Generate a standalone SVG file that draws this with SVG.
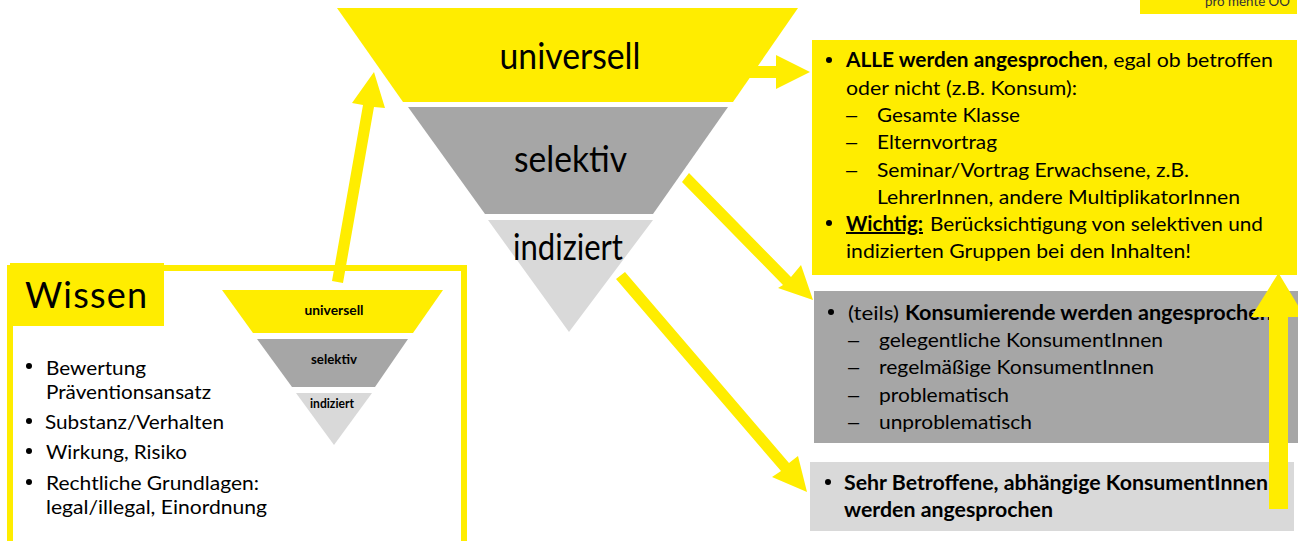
<svg xmlns="http://www.w3.org/2000/svg" width="1298" height="541" viewBox="0 0 1298 541">
<style>
text{font-family:Lato,"Liberation Sans",sans-serif;fill:#000}
.t{font-size:20px}
.b{font-size:20px;font-weight:700}
.d{font-size:20px;font-family:"Liberation Sans",sans-serif}
.y{fill:#FFED00}
.g{fill:#A6A6A6}
.l{fill:#D9D9D9}
.big{font-size:36px;text-anchor:middle}
.sm{font-size:13px;font-weight:700;text-anchor:middle}
.arrow{fill:#FFED00}
</style>
<rect width="1298" height="541" fill="#fff"/>
<g id="logo"><rect class="y" x="1140" y="0" width="157" height="14"/><text x="1205" y="6" font-size="14" textLength="85" lengthAdjust="spacingAndGlyphs" style="fill:#333">pro mente OÖ</text></g>
<g id="funnel-large">
<polygon class="y" points="337,8 798,8 733,102 403,102"/>
<text class="big" x="570" y="69" textLength="141" lengthAdjust="spacingAndGlyphs">universell</text>
<polygon class="g" points="408,107 728,107 653,214 485,214"/>
<text class="big" x="570.5" y="172" textLength="113" lengthAdjust="spacingAndGlyphs">selektiv</text>
<polygon class="l" points="488,220 653,220 569,332"/>
<text class="big" x="568" y="260" textLength="110" lengthAdjust="spacingAndGlyphs">indiziert</text>
</g>
<g id="box-universell">
<rect class="y" x="812" y="40" width="485" height="235"/>
<circle cx="829" cy="60" r="3"/>
<text class="b" x="846" y="67" textLength="257" lengthAdjust="spacingAndGlyphs">ALLE werden angesprochen</text>
<text class="t" x="1103" y="67" textLength="170" lengthAdjust="spacingAndGlyphs">, egal ob betroffen</text>
<text class="t" x="846" y="95" textLength="231" lengthAdjust="spacingAndGlyphs">oder nicht (z.B. Konsum):</text>
<text class="d" x="846" y="122">–</text>
<text class="t" x="877" y="122" textLength="143" lengthAdjust="spacingAndGlyphs">Gesamte Klasse</text>
<text class="d" x="846" y="149">–</text>
<text class="t" x="877" y="149" textLength="120" lengthAdjust="spacingAndGlyphs">Elternvortrag</text>
<text class="d" x="846" y="177">–</text>
<text class="t" x="877" y="177" textLength="312" lengthAdjust="spacingAndGlyphs">Seminar/Vortrag Erwachsene, z.B.</text>
<text class="t" x="877" y="204" textLength="363" lengthAdjust="spacingAndGlyphs">LehrerInnen, andere MultiplikatorInnen</text>
<circle cx="829" cy="223" r="3"/>
<text class="b" x="846" y="231" textLength="77" lengthAdjust="spacingAndGlyphs" text-decoration="underline">Wichtig:</text>
<text class="t" x="930" y="231" textLength="333" lengthAdjust="spacingAndGlyphs">Berücksichtigung von selektiven und</text>
<text class="t" x="846" y="258" textLength="345" lengthAdjust="spacingAndGlyphs">indizierten Gruppen bei den Inhalten!</text>
</g>
<g id="box-selektiv">
<rect class="g" x="814" y="291" width="484" height="152"/>
<circle cx="831" cy="312" r="3"/>
<text class="t" x="848" y="320" textLength="51" lengthAdjust="spacingAndGlyphs">(teils)</text>
<text class="b" x="905" y="320" textLength="367" lengthAdjust="spacingAndGlyphs">Konsumierende werden angesprochen</text>
<text class="d" x="848" y="347">–</text>
<text class="t" x="879" y="347" textLength="284" lengthAdjust="spacingAndGlyphs">gelegentliche KonsumentInnen</text>
<text class="d" x="848" y="374">–</text>
<text class="t" x="879" y="374" textLength="275" lengthAdjust="spacingAndGlyphs">regelmäßige KonsumentInnen</text>
<text class="d" x="848" y="402">–</text>
<text class="t" x="879" y="402" textLength="130" lengthAdjust="spacingAndGlyphs">problematisch</text>
<text class="d" x="848" y="429">–</text>
<text class="t" x="879" y="429" textLength="153" lengthAdjust="spacingAndGlyphs">unproblematisch</text>
</g>
<g id="box-indiziert">
<rect class="l" x="810" y="462" width="484" height="69"/>
<circle cx="828" cy="482" r="3"/>
<text class="b" x="844" y="490" textLength="424" lengthAdjust="spacingAndGlyphs">Sehr Betroffene, abhängige KonsumentInnen</text>
<text class="b" x="844" y="517" textLength="209" lengthAdjust="spacingAndGlyphs">werden angesprochen</text>
</g>
<g id="wissen">
<path d="M7,541V265H467V541H461V271H13V541Z" class="y"/>
<rect class="y" x="10" y="263" width="154" height="63"/>
<text x="25" y="308" font-size="36" textLength="122" lengthAdjust="spacing">Wissen</text>
<circle cx="29" cy="366" r="3"/>
<text class="t" x="46" y="375" textLength="100" lengthAdjust="spacingAndGlyphs">Bewertung</text>
<text class="t" x="46" y="399" textLength="165" lengthAdjust="spacingAndGlyphs">Präventionsansatz</text>
<circle cx="29" cy="421" r="3"/>
<text class="t" x="45" y="429" textLength="179" lengthAdjust="spacingAndGlyphs">Substanz/Verhalten</text>
<circle cx="29" cy="451" r="3"/>
<text class="t" x="46" y="459" textLength="141" lengthAdjust="spacingAndGlyphs">Wirkung, Risiko</text>
<circle cx="29" cy="482" r="3"/>
<text class="t" x="46" y="490" textLength="213" lengthAdjust="spacingAndGlyphs">Rechtliche Grundlagen:</text>
<text class="t" x="46" y="514" textLength="221" lengthAdjust="spacingAndGlyphs">legal/illegal, Einordnung</text>
</g>
<g id="funnel-small">
<polygon class="y" points="222,290 443,290 413,333 253,333"/>
<text class="sm" x="334" y="315" textLength="59" lengthAdjust="spacingAndGlyphs">universell</text>
<polygon class="g" points="257,339 408,339 375,387 292,387"/>
<text class="sm" x="334" y="364" textLength="46" lengthAdjust="spacingAndGlyphs">selektiv</text>
<polygon class="l" points="296,393 372,393 334,445"/>
<text class="sm" x="332" y="408" textLength="44" lengthAdjust="spacingAndGlyphs">indiziert</text>
</g>
<g id="connectors">
<polygon class="arrow" points="332,281 343,283 374,107 385,108 374,72 352,103 363,105"/>
<polygon class="arrow" points="745,66 776,66 776,55 810,72 776,89 776,78 745,78"/>
<polygon class="arrow" points="682,182 689,173 791,277 801,265 813,300 778,288 783,285"/>
<polygon class="arrow" points="616,279 625,272 789,463 798,456 807,492 772,477 781,471"/>
<polygon class="arrow" points="1269,509 1288,509 1288,317 1305,317 1278.5,273 1251,317 1269,317"/>
</g>
</svg>
